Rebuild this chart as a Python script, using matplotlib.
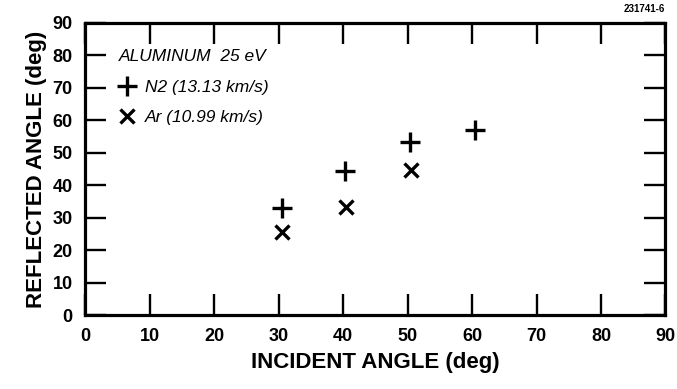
import numpy as np
import matplotlib.pyplot as plt

# Данные: падающий угол и угол отражения (град)
n2_incident = [30.5, 40.3, 50.4, 60.4]
n2_reflected = [33.0, 44.4, 53.3, 57.0]
ar_incident = [30.5, 40.4, 50.6]
ar_reflected = [25.6, 33.3, 44.7]

xticks = np.arange(0, 91, 10)
yticks = np.arange(0, 91, 10)

plt.rcParams['font.family'] = ['Liberation Sans', 'DejaVu Sans']

fig = plt.figure(figsize=(6.77, 3.89), dpi=100)
ax = fig.add_axes([0.126, 0.19, 0.857, 0.751])

ax.plot(n2_incident, n2_reflected, ls='none', marker='+', ms=15, mew=2.4,
        color='black', label='N2 (13.13 km/s)')
ax.plot(ar_incident, ar_reflected, ls='none', marker='x', ms=10.5, mew=2.4,
        color='black', label='Ar (10.99 km/s)')

ax.set_xlim(0, 90)
ax.set_ylim(0, 90)
ax.set_xticks(xticks)
ax.set_yticks(yticks)
ax.tick_params(direction='in', length=15, width=1.7, top=True, right=True,
               labelsize=13, pad=9)
for lab in ax.get_xticklabels() + ax.get_yticklabels():
    lab.set_fontweight('bold')
for sp in ax.spines.values():
    sp.set_linewidth(2.3)

ax.set_xlabel('INCIDENT ANGLE (deg)', fontsize=16, fontweight='bold', labelpad=5)
ax.set_ylabel('REFLECTED ANGLE (deg)', fontsize=16, fontweight='bold', labelpad=4)

leg = ax.legend(loc='upper left', bbox_to_anchor=(0.058, 0.91), frameon=False,
                title='ALUMINUM  25 eV', alignment='left',
                prop={'style': 'italic', 'size': 12.5}, handlelength=0.9,
                handletextpad=0.6, labelspacing=0.85, borderpad=0,
                borderaxespad=0)
leg.get_title().set_fontstyle('italic')
leg.get_title().set_fontsize(12.5)
leg._legend_box.sep = 11

fig.text(0.982, 0.965, '231741-6', ha='right', va='bottom', fontsize=7,
         fontweight='bold')

fig.savefig('out.png', dpi=100)
